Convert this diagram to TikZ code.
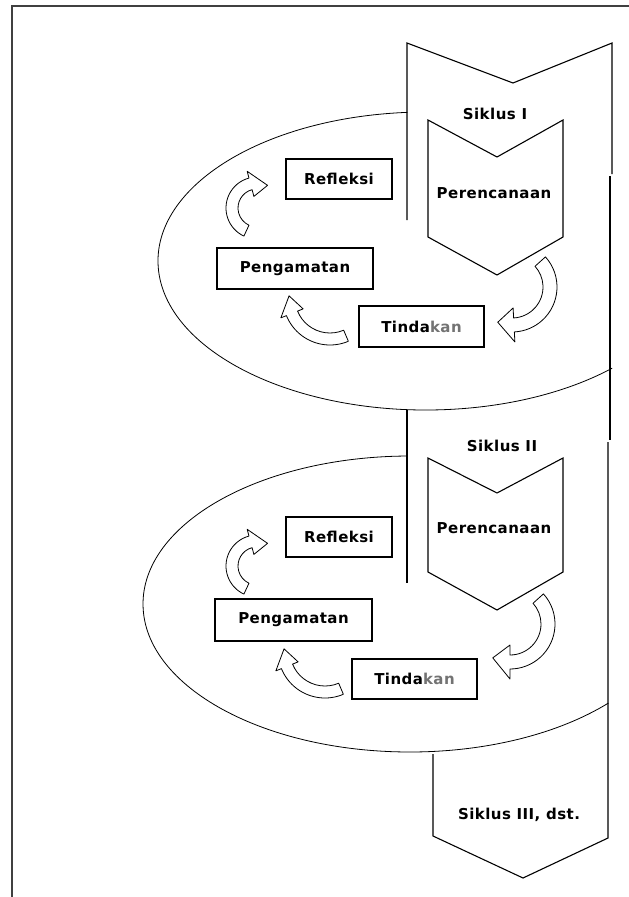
\documentclass[tikz,border=0pt]{standalone}
\usepackage{fontspec}
\setsansfont[LetterSpace=3]{DejaVu Sans}

\newcommand\lblfont{\sffamily\bfseries\fontsize{15}{18}\selectfont}
% hollow curved arrow: cx, cy, radius, half width, start, end, head half width, head angle
\newcommand\cyclearrow[8]{%
  \begin{scope}[shift={(#1,#2)}]
    \draw[blockarrow] ({#5}:{#3+#4}) arc[start angle=#5, end angle=#6, radius={#3+#4}]
      -- ({#6}:{#3+#7}) -- ({#6+#8}:{#3}) -- ({#6}:{#3-#7})
      -- ({#6}:{#3-#4}) arc[start angle=#6, end angle=#5, radius={#3-#4}] -- cycle;
  \end{scope}}

\tikzset{
  stepbox/.style={draw, fill=white, line width=1.2, inner sep=0pt, font=\lblfont},
  lbl/.style={font=\lblfont, inner sep=0pt},
  ribbon/.style={line width=1.1},
  disc/.style={line width=0.8},
  blockarrow/.style={fill=white, line width=0.8, line join=round},
}

\begin{document}
\begin{tikzpicture}[x=1pt,y=-1pt]
    \useasboundingbox (0,0) rectangle (629,897);

    % Frame
    \draw[line width=1.5, black!75] (629,6) -- (12,6) -- (12,897);

    % Discs of the two cycles
    \draw[disc] (426,261) ++(266:268 and 149) arc[start angle=266, end angle=46, x radius=268, y radius=149];
    \draw[disc] (410,604) ++(269.4:267 and 148) arc[start angle=269.4, end angle=42, x radius=267, y radius=148];

    % Ribbon running through the cycles
    \draw[ribbon] (407,220) -- (407,43) -- (513,83) -- (612,43) -- (612,174);
    \draw[ribbon] (610,176) -- (610,440);
    \draw[ribbon] (608,442) -- (608,838) -- (523,878) -- (433,836) -- (433,754);
    \draw[ribbon] (407,410) -- (407,583);

    % Planning chevrons
    \draw[ribbon, fill=white] (428,120) -- (497,157) -- (563,120) -- (563,237) -- (497,275) -- (428,237) -- cycle;
    \draw[ribbon, fill=white] (428,458) -- (497,493) -- (563,458) -- (563,572) -- (497,610) -- (428,572) -- cycle;

    % Cycle I
    \node[lbl] (siklus1) at (495,114) {Siklus I};
    \node[lbl] (rencana1) at (494,193) {Perencanaan};
    \node[stepbox, minimum width=106, minimum height=40] (refleksi1) at (339,179) {Refleksi};
    \node[stepbox, minimum width=156, minimum height=41] (amati1) at (295,268.5) {Pengamatan};
    \node[stepbox, minimum width=125, minimum height=41] (tindak1) at (421.5,326.5) {Tinda\textcolor{black!55}{kan}};
    \cyclearrow{512}{287}{38}{7}{-42}{87}{17}{25}
    \cyclearrow{330}{298}{41}{6}{67}{158}{12}{25}
    \cyclearrow{257}{208}{25}{6}{115}{255}{13}{40}

    % Cycle II
    \node[lbl] (siklus2) at (502,446) {Siklus II};
    \node[lbl] (rencana2) at (494,528) {Perencanaan};
    \node[stepbox, minimum width=106, minimum height=40] (refleksi2) at (339,537) {Refleksi};
    \node[stepbox, minimum width=157, minimum height=42] (amati2) at (293.5,620) {Pengamatan};
    \node[stepbox, minimum width=125, minimum height=40] (tindak2) at (414.5,679) {Tinda\textcolor{black!55}{kan}};
    \cyclearrow{510}{624}{38}{7}{-42}{90}{17}{27}
    \cyclearrow{325}{651}{41}{6}{67}{158}{12}{25}
    \cyclearrow{257}{566}{25}{6}{115}{255}{13}{40}

    % Next cycles
    \node[lbl] (siklus3) at (519,815) {Siklus III, dst.};
\end{tikzpicture}
\end{document}
